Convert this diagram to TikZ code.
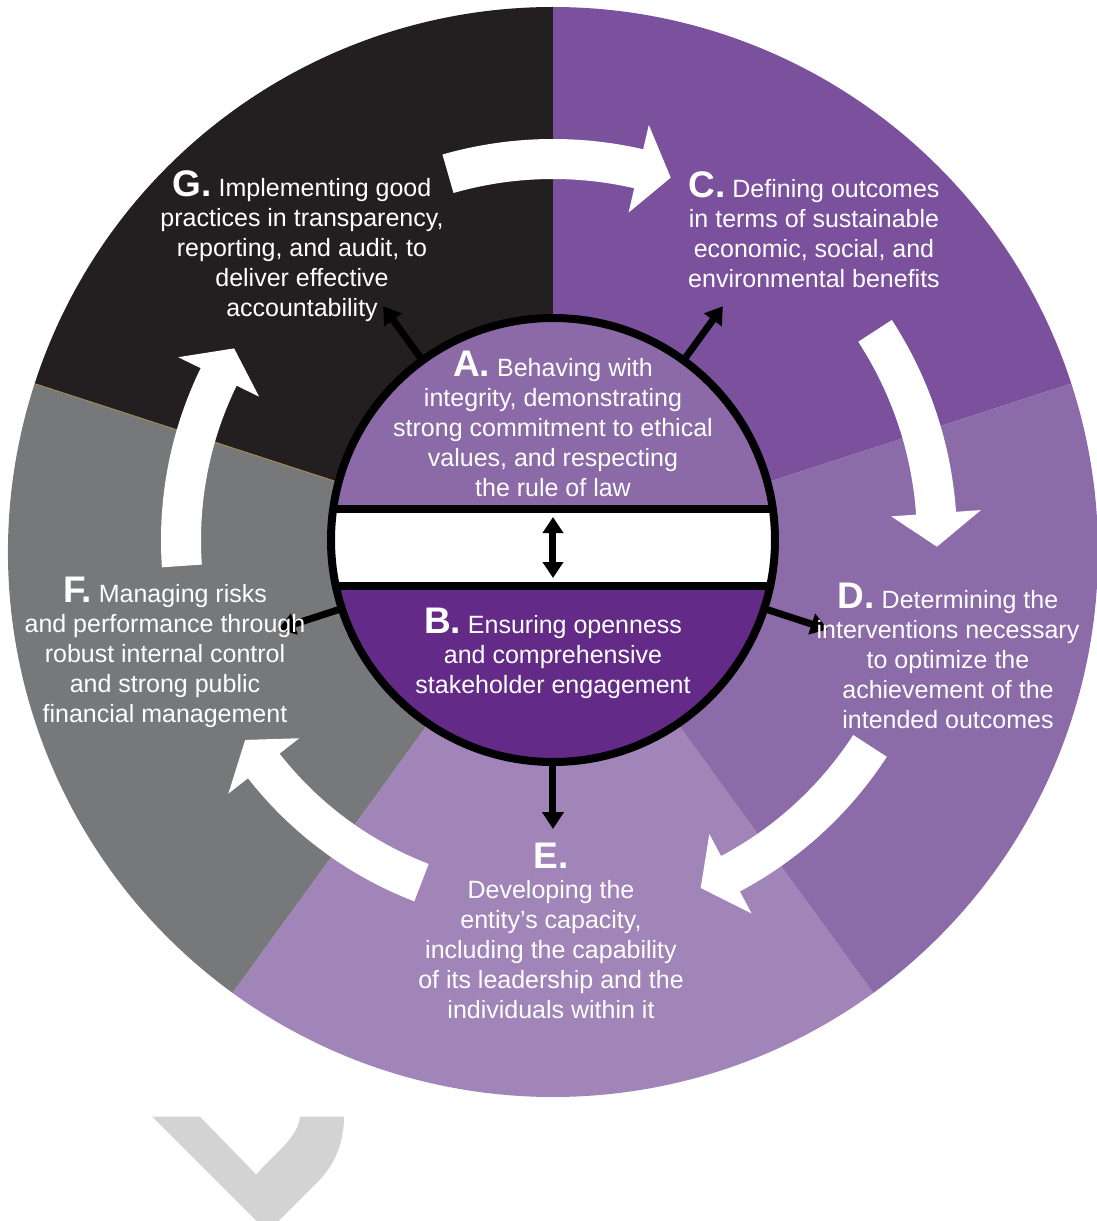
\documentclass[tikz,border=0pt]{standalone}
\usepackage{fontspec}
\setmainfont{Liberation Sans}
\usetikzlibrary{arrows.meta}
\definecolor{colG}{HTML}{231F20}
\definecolor{colC}{HTML}{7B519D}
\definecolor{colD}{HTML}{8C6BA9}
\definecolor{colE}{HTML}{A185B8}
\definecolor{colF}{HTML}{77787A}
\definecolor{colA}{HTML}{8B6AA7}
\definecolor{colB}{HTML}{632B87}
\definecolor{chev}{HTML}{D3D3D3}
\definecolor{seam}{HTML}{B08A4A}
\newcommand{\bigL}[1]{{\fontsize{37}{30}\selectfont\bfseries #1}}
\newcommand{\cycarrow}[4]{%
  \pgfmathsetmacro\ro{#4+20}\pgfmathsetmacro\ri{#4-20}%
  \pgfmathsetmacro\ho{#4+45}\pgfmathsetmacro\hi{#4-45}%
  \fill[white] (#1:\ro) arc[start angle=#1, end angle=#2, radius=\ro]
    -- (#2:\ho) -- (#3:#4) -- (#2:\hi) -- (#2:\ri)
    arc[start angle=#2, end angle=#1, radius=\ri] -- cycle;}
\tikzset{
  txt/.style={text=white, align=center, anchor=north, inner sep=0pt,
    font=\fontsize{25}{30}\selectfont},
  spoke/.style={line width=7pt, -{Triangle[width=21pt,length=17pt]}},
  dbl/.style={line width=7pt, {Triangle[width=20pt,length=16pt]}-{Triangle[width=20pt,length=16pt]}},
  band/.style={line width=8pt}
}
\begin{document}
\begin{tikzpicture}[x=1pt,y=1pt]
\useasboundingbox (-553,-681) rectangle (544,540);
\begin{scope}
\clip (-553,-681) rectangle (544,540);
% sectors
\coordinate (S) at (0,-12);
\fill[colC] (S) -- ++(18:545) arc[start angle=18, end angle=90, radius=545] -- cycle;
\fill[colG] (S) -- ++(90:545) arc[start angle=90, end angle=162, radius=545] -- cycle;
\fill[colF] (S) -- ++(162:545) arc[start angle=162, end angle=234, radius=545] -- cycle;
\fill[colE] (S) -- ++(234:545) arc[start angle=234, end angle=306, radius=545] -- cycle;
\fill[colD] (S) -- ++(306:545) arc[start angle=306, end angle=378, radius=545] -- cycle;
\draw[seam, line width=0.8pt] (S) ++(162:230) -- ++(162:315);
% cycle arrows
\cycarrow{106}{77}{72}{381}
\cycarrow{33}{4}{-1}{384}
\cycarrow{-33}{-62}{-67}{378}
\cycarrow{-111}{-142}{-147}{367}
\cycarrow{184}{154}{149}{372}
% grey chevron
\fill[chev] (-400.7,-576.7) -- (-353,-576.7) -- (-297,-634.3) -- (-269.7,-606.7)
  .. controls (-261,-597) and (-254,-588) .. (-253,-576.7) -- (-209,-576.7)
  .. controls (-209,-605) and (-220,-627) .. (-236.3,-643) -- (-285.4,-692) -- cycle;
% inner circle
\begin{scope}
\clip (0,0) circle[radius=222];
\fill[colA] (-230,-8) rectangle (230,230);
\fill[colB] (-230,-8) rectangle (230,-230);
\fill[white] (-230,31) rectangle (230,-46);
\draw[band] (-230,31) -- (230,31);
\draw[band] (-230,-46) -- (230,-46);
\end{scope}
\node[circle, draw, line width=8pt, minimum size=444pt, inner sep=0pt, outer sep=0pt] (core) at (0,0) {};
\coordinate (up) at (0,23);
\coordinate (dn) at (0,-38);
\draw[dbl] (up) -- (dn);
\foreach \a/\n in {126/G,54/C,198/F,342/D,270/E}{
  \coordinate (tip\n) at (\a:289);
  \draw[spoke] (core.\a) -- (tip\n);
}
% texts
\node[txt] (tA) at (0,191) {\rule{0pt}{27pt}\bigL{A.} Behaving with\\integrity, demonstrating\\strong commitment to ethical\\values, and respecting\\the rule of law};
\node[txt] (tB) at (0,-66) {\rule{0pt}{27pt}\bigL{B.} Ensuring openness\\and comprehensive\\stakeholder engagement};
\node[txt] (tG) at (-251,371) {\rule{0pt}{27pt}\bigL{G.} Implementing good\\practices in transparency,\\reporting, and audit, to\\deliver effective\\accountability};
\node[txt] (tC) at (261,370) {\rule{0pt}{27pt}\bigL{C.} Defining outcomes\\in terms of sustainable\\economic, social, and\\environmental benefits};
\node[txt] (tD) at (395,-41) {\rule{0pt}{27pt}\bigL{D.} Determining the\\interventions necessary\\to optimize the\\achievement of the\\intended outcomes};
\node[txt] (tF) at (-388,-35) {\rule{0pt}{27pt}\bigL{F.} Managing risks\\and performance through\\robust internal control\\and strong public\\financial management};
\node[txt] (tE) at (-2,-301) {\rule{0pt}{27pt}\bigL{E.}\\Developing the\\entity’s capacity,\\including the capability\\of its leadership and the\\individuals within it};
\end{scope}
\end{tikzpicture}
\end{document}
